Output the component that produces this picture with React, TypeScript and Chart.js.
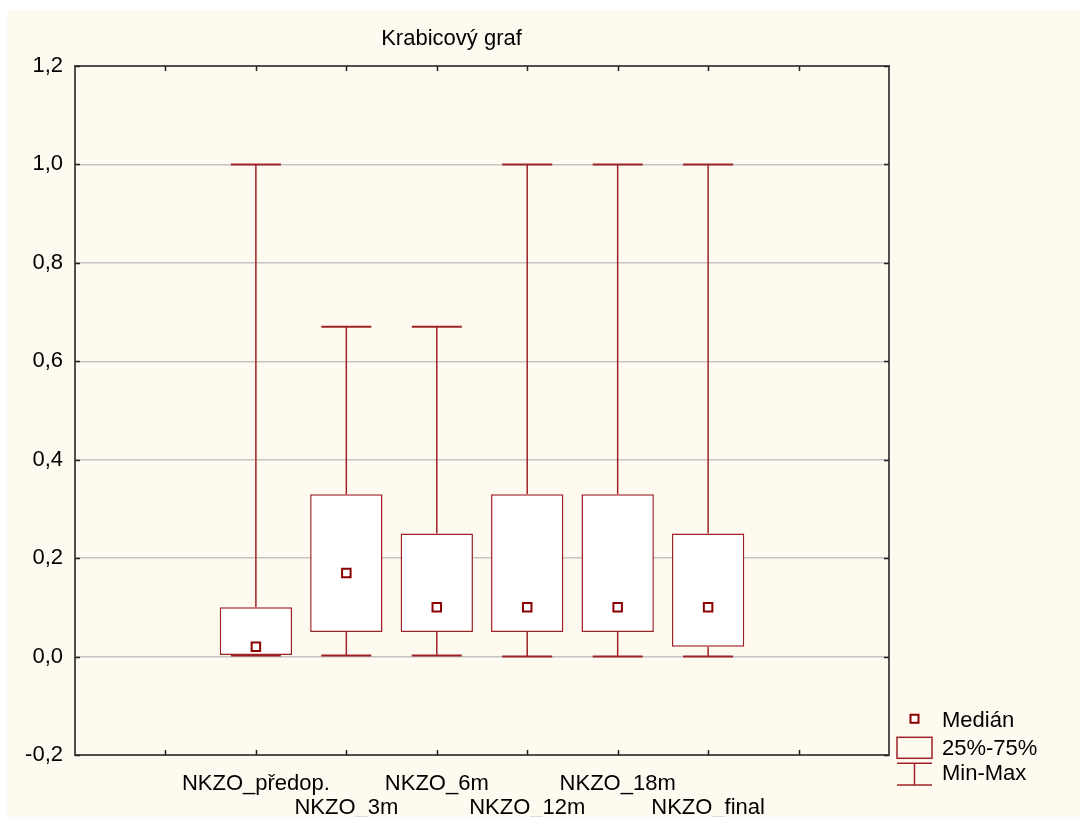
import React, { useEffect, useRef } from 'react';
import { Chart, registerables } from 'chart.js';

Chart.register(...registerables);

const chartTitle = 'Krabicový graf';
const categories = ['NKZO_předop.', 'NKZO_3m', 'NKZO_6m', 'NKZO_12m', 'NKZO_18m', 'NKZO_final'];
const positions = [2, 3, 4, 5, 6, 7];
const minValues = [0.002, 0.002, 0.002, 0, 0, 0];
const q1Values = [0.003, 0.05, 0.05, 0.05, 0.05, 0.02];
const medianValues = [0.02, 0.17, 0.1, 0.1, 0.1, 0.1];
const q3Values = [0.1, 0.33, 0.25, 0.33, 0.33, 0.25];
const maxValues = [1, 0.67, 0.67, 1, 1, 1];
const xTickValues = [1, 2, 3, 4, 5, 6, 7, 8];
const yTickValues = [-0.2, 0, 0.2, 0.4, 0.6, 0.8, 1.0, 1.2];
const legendLabels = ['Medián', '25%-75%', 'Min-Max'];

const FONT = '"Liberation Sans", Arial, sans-serif';
const BOX_COLOR = '#9E2329';
const MED_COLOR = '#8B0000';

const decorPlugin = {
  id: 'decor',
  afterDraw(chart: any) {
    const ctx = chart.ctx;
    const { left, right, top, bottom } = chart.chartArea;
    const xs = chart.scales.x;
    const ys = chart.scales.y;
    ctx.save();
    // frame
    ctx.strokeStyle = '#505050';
    ctx.lineWidth = 2;
    ctx.strokeRect(left, top, right - left, bottom - top);
    // inside ticks
    ctx.strokeStyle = '#202020';
    ctx.lineWidth = 1.5;
    ctx.beginPath();
    yTickValues.forEach((v) => {
      const y = Math.round(ys.getPixelForValue(v)) + 0.5;
      ctx.moveTo(left, y);
      ctx.lineTo(left + 5, y);
      ctx.moveTo(right - 5, y);
      ctx.lineTo(right, y);
    });
    xTickValues.forEach((v) => {
      const x = Math.round(xs.getPixelForValue(v)) + 0.5;
      ctx.moveTo(x, top);
      ctx.lineTo(x, top + 5);
      ctx.moveTo(x, bottom - 5);
      ctx.lineTo(x, bottom);
    });
    ctx.stroke();

    // title
    ctx.fillStyle = '#000';
    ctx.font = `22px ${FONT}`;
    ctx.textAlign = 'center';
    ctx.textBaseline = 'alphabetic';
    ctx.fillText(chartTitle, 444.5, 35);

    // legend
    const lx = right + 8;
    const sw = 35;
    const cx = lx + sw / 2;
    // median marker
    ctx.strokeStyle = MED_COLOR;
    ctx.lineWidth = 2;
    ctx.fillStyle = '#fff';
    ctx.beginPath();
    ctx.rect(cx - 4, 708.7 - 4, 8, 8);
    ctx.fill();
    ctx.stroke();
    // box symbol
    ctx.strokeStyle = BOX_COLOR;
    ctx.lineWidth = 1.5;
    ctx.strokeRect(lx, 727.3, sw, 21);
    // min-max symbol
    ctx.beginPath();
    ctx.moveTo(lx, 753.3);
    ctx.lineTo(lx + sw, 753.3);
    ctx.moveTo(cx, 753.3);
    ctx.lineTo(cx, 775);
    ctx.moveTo(lx, 775);
    ctx.lineTo(lx + sw, 775);
    ctx.stroke();
    // legend texts
    ctx.fillStyle = '#000';
    ctx.textAlign = 'left';
    ctx.font = `22px ${FONT}`;
    const baselines = [717, 745, 770];
    legendLabels.forEach((t, i) => ctx.fillText(t, lx + 45, baselines[i]));
    ctx.restore();
  },
};

export default function App() {
  const canvasRef = useRef<HTMLCanvasElement | null>(null);

  useEffect(() => {
    document.body.style.margin = '0';
    const canvas = canvasRef.current;
    if (!canvas) return;

    const boxData = positions.map((x, i) => ({ x, y: [q1Values[i], q3Values[i]] }));
    const whiskerData: any[] = [];
    positions.forEach((x, i) => {
      whiskerData.push({ x, y: q3Values[i] }, { x, y: maxValues[i] }, { x, y: null });
      whiskerData.push({ x, y: minValues[i] }, { x, y: q1Values[i] }, { x, y: null });
    });
    const capData: any[] = [];
    positions.forEach((x, i) => {
      capData.push({ x, y: maxValues[i] }, { x, y: minValues[i] });
    });
    const medianData = positions.map((x, i) => ({ x, y: medianValues[i] }));

    const chart = new Chart(canvas, {
      type: 'bar',
      data: {
        datasets: [
          {
            type: 'scatter',
            label: 'Medián',
            data: medianData,
            pointStyle: 'rect',
            pointRadius: 6,
            pointHoverRadius: 6,
            backgroundColor: '#fff',
            borderColor: MED_COLOR,
            borderWidth: 2,
            order: 0,
          } as any,
          {
            type: 'bar',
            label: '25%-75%',
            data: boxData,
            backgroundColor: '#fff',
            borderColor: BOX_COLOR,
            borderWidth: 1.5,
            borderSkipped: false,
            categoryPercentage: 0.8,
            barPercentage: 1,
            grouped: false,
            order: 1,
          } as any,
          {
            type: 'scatter',
            label: 'whiskers',
            data: whiskerData,
            showLine: true,
            spanGaps: false,
            pointRadius: 0,
            borderColor: BOX_COLOR,
            borderWidth: 1.5,
            order: 2,
          } as any,
          {
            type: 'scatter',
            label: 'Min-Max',
            data: capData,
            pointStyle: 'line',
            pointRadius: 25,
            pointHoverRadius: 25,
            borderColor: BOX_COLOR,
            borderWidth: 2,
            order: 2,
          } as any,
        ],
      },
      options: {
        responsive: false,
        animation: false,
        events: [],
        layout: { padding: { left: 0, top: 56, right: 191, bottom: 0 } },
        plugins: {
          legend: { display: false },
          title: { display: false },
          tooltip: { enabled: false },
        },
        scales: {
          x: {
            type: 'linear',
            min: 0,
            max: 9,
            offset: false,
            grid: { display: false, drawTicks: false },
            border: { display: false },
            afterBuildTicks: (s: any) => {
              s.ticks = [0, 1, 2, 3, 4, 5, 6, 7, 8, 9].map((v) => ({ value: v }));
            },
            afterFit: (s: any) => {
              s.height = 62;
            },
            ticks: {
              autoSkip: false,
              maxRotation: 0,
              minRotation: 0,
              padding: 17,
              color: '#000',
              font: { family: FONT, size: 22, lineHeight: 1.09 },
              callback: (v: any) => {
                const idx = positions.indexOf(Number(v));
                if (idx < 0) return '';
                return idx % 2 === 0 ? [categories[idx], ''] : ['', categories[idx]];
              },
            },
          },
          y: {
            type: 'linear',
            min: -0.2,
            max: 1.2,
            grid: { color: '#C4C4C4', lineWidth: 1.5, drawTicks: false },
            border: { display: false },
            afterBuildTicks: (s: any) => {
              s.ticks = yTickValues.map((v) => ({ value: v }));
            },
            afterFit: (s: any) => {
              s.width = 68;
            },
            ticks: {
              padding: 12,
              color: '#000',
              font: { family: FONT, size: 22 },
              callback: (v: any) => Number(v).toFixed(1).replace('.', ','),
            },
          },
        },
      },
      plugins: [decorPlugin],
    });

    return () => chart.destroy();
  }, []);

  return (
    <div
      style={{
        position: 'absolute',
        left: 7,
        top: 10,
        width: 1073,
        height: 807,
        background: '#FFFAF0',
      }}
    >
      <canvas ref={canvasRef} width={1073} height={807} style={{ display: 'block', width: 1073, height: 807 }} />
    </div>
  );
}
